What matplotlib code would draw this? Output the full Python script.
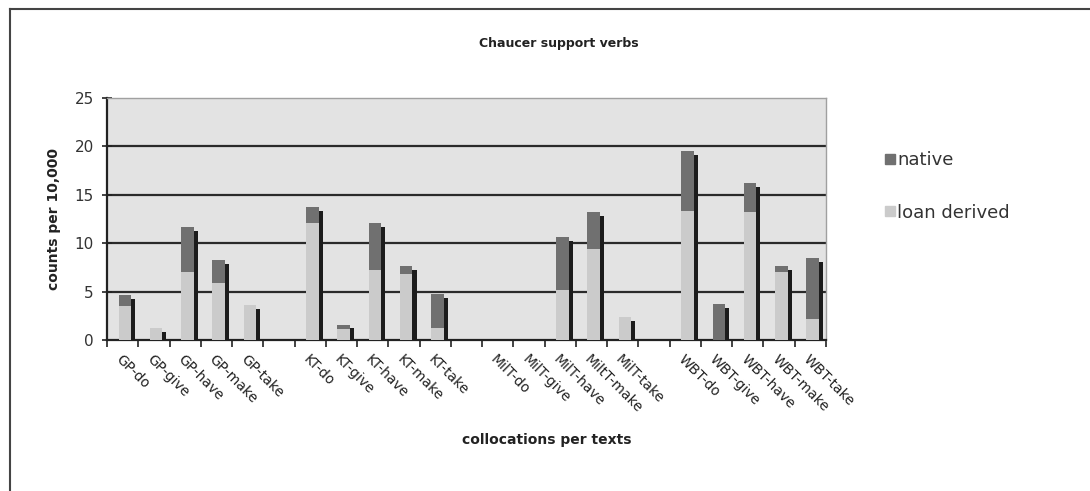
import matplotlib.pyplot as plt
from matplotlib.lines import Line2D
import numpy as np

# categories (empty strings are the gaps between texts)
labels = ['GP-do', 'GP-give', 'GP-have', 'GP-make', 'GP-take', '',
          'KT-do', 'KT-give', 'KT-have', 'KT-make', 'KT-take', '',
          'MilT-do', 'MilT-give', 'MilT-have', 'MiltT-make', 'MilT-take', '',
          'WBT-do', 'WBT-give', 'WBT-have', 'WBT-make', 'WBT-take']
loan = [3.5, 1.2, 7.0, 5.9, 3.6, 0,
        12.1, 1.1, 7.2, 6.85, 1.2, 0,
        0, 0, 5.2, 9.4, 2.35, 0,
        13.3, 0, 13.2, 7.0, 2.2]
native = [1.1, 0, 4.7, 2.35, 0, 0,
          1.6, 0.5, 4.9, 0.8, 3.55, 0,
          0, 0, 5.4, 3.8, 0, 0,
          6.2, 3.7, 3.05, 0.6, 6.3]

c_native = '#707070'
c_loan = '#cbcbcb'
c_side = '#1c1c1c'

fig = plt.figure(figsize=(10.9, 4.91), dpi=100)
ax = fig.add_axes([0.0982, 0.3075, 0.6596, 0.4929])
ax.set_facecolor('#e3e3e3')

x = np.arange(len(labels)) + 0.5
loan = np.array(loan)
native = np.array(native)
total = loan + native

# only draw the non-empty pieces
has = total > 0
hl = loan > 0
hn = native > 0

# dark side face of each 3d-looking bar
side = np.clip(total - 0.4, 0, None)
ax.bar(x[has] + 0.27, side[has], width=0.13, align='edge', color=c_side,
       linewidth=0, zorder=3)
ax.bar(x[hl] - 0.13, loan[hl], width=0.40, align='edge', color=c_loan,
       linewidth=0, zorder=4)
ax.bar(x[hn] - 0.13, native[hn], width=0.40, bottom=loan[hn], align='edge',
       color=c_native, linewidth=0, zorder=4)

ax.set_xlim(0, len(labels))
ax.set_ylim(0, 25)
ax.set_yticks([0, 5, 10, 15, 20, 25])
for v in [5, 10, 15, 20]:
    ax.axhline(v, color='#2a2a2a', lw=1.6, zorder=1)

ax.set_xticks(np.arange(len(labels) + 1))
ax.set_xticklabels([])
ax.set_xticks(x, minor=True)
ax.set_xticklabels(labels, minor=True, rotation=-45, ha='left',
                   rotation_mode='anchor', fontsize=10, color='#222222')
ax.tick_params(axis='x', which='minor', length=0, pad=9)
ax.tick_params(axis='x', which='major', length=5, width=1.2, color='#222222', direction='out')
ax.tick_params(axis='y', length=7, width=1.2, color='#222222', direction='inout',
               labelsize=11, labelcolor='#333333', pad=6)

for s in ['left', 'bottom']:
    ax.spines[s].set_color('#222222')
    ax.spines[s].set_linewidth(1.6)
for s in ['top', 'right']:
    ax.spines[s].set_color('#a0a0a0')
    ax.spines[s].set_linewidth(1.0)

ax.set_ylabel('counts per 10,000', fontsize=10, fontweight='bold', color='#222222', labelpad=10)
fig.text(0.502, 0.104, 'collocations per texts', fontsize=10, fontweight='bold',
         color='#222222', ha='center', va='center')
fig.text(0.513, 0.912, 'Chaucer support verbs', fontsize=9, fontweight='bold',
         color='#222222', ha='center', va='center')

handles = [Line2D([], [], marker='s', ls='none', markersize=7, color=c_native),
           Line2D([], [], marker='s', ls='none', markersize=7, color=c_loan)]
leg = fig.legend(handles, ['native', 'loan derived'], loc='upper left',
                 bbox_to_anchor=(0.796, 0.725), frameon=False, fontsize=13,
                 handletextpad=0.05, labelspacing=1.9, handlelength=0.7)
for t in leg.get_texts():
    t.set_color('#333333')

# outer frame (top and left only)
fig.add_artist(Line2D([0.0092, 0.0092], [0, 0.981], color='#444444', lw=1.5))
fig.add_artist(Line2D([0.0092, 1.0], [0.981, 0.981], color='#444444', lw=1.5))

fig.savefig('out.png', dpi=100, facecolor='white')
